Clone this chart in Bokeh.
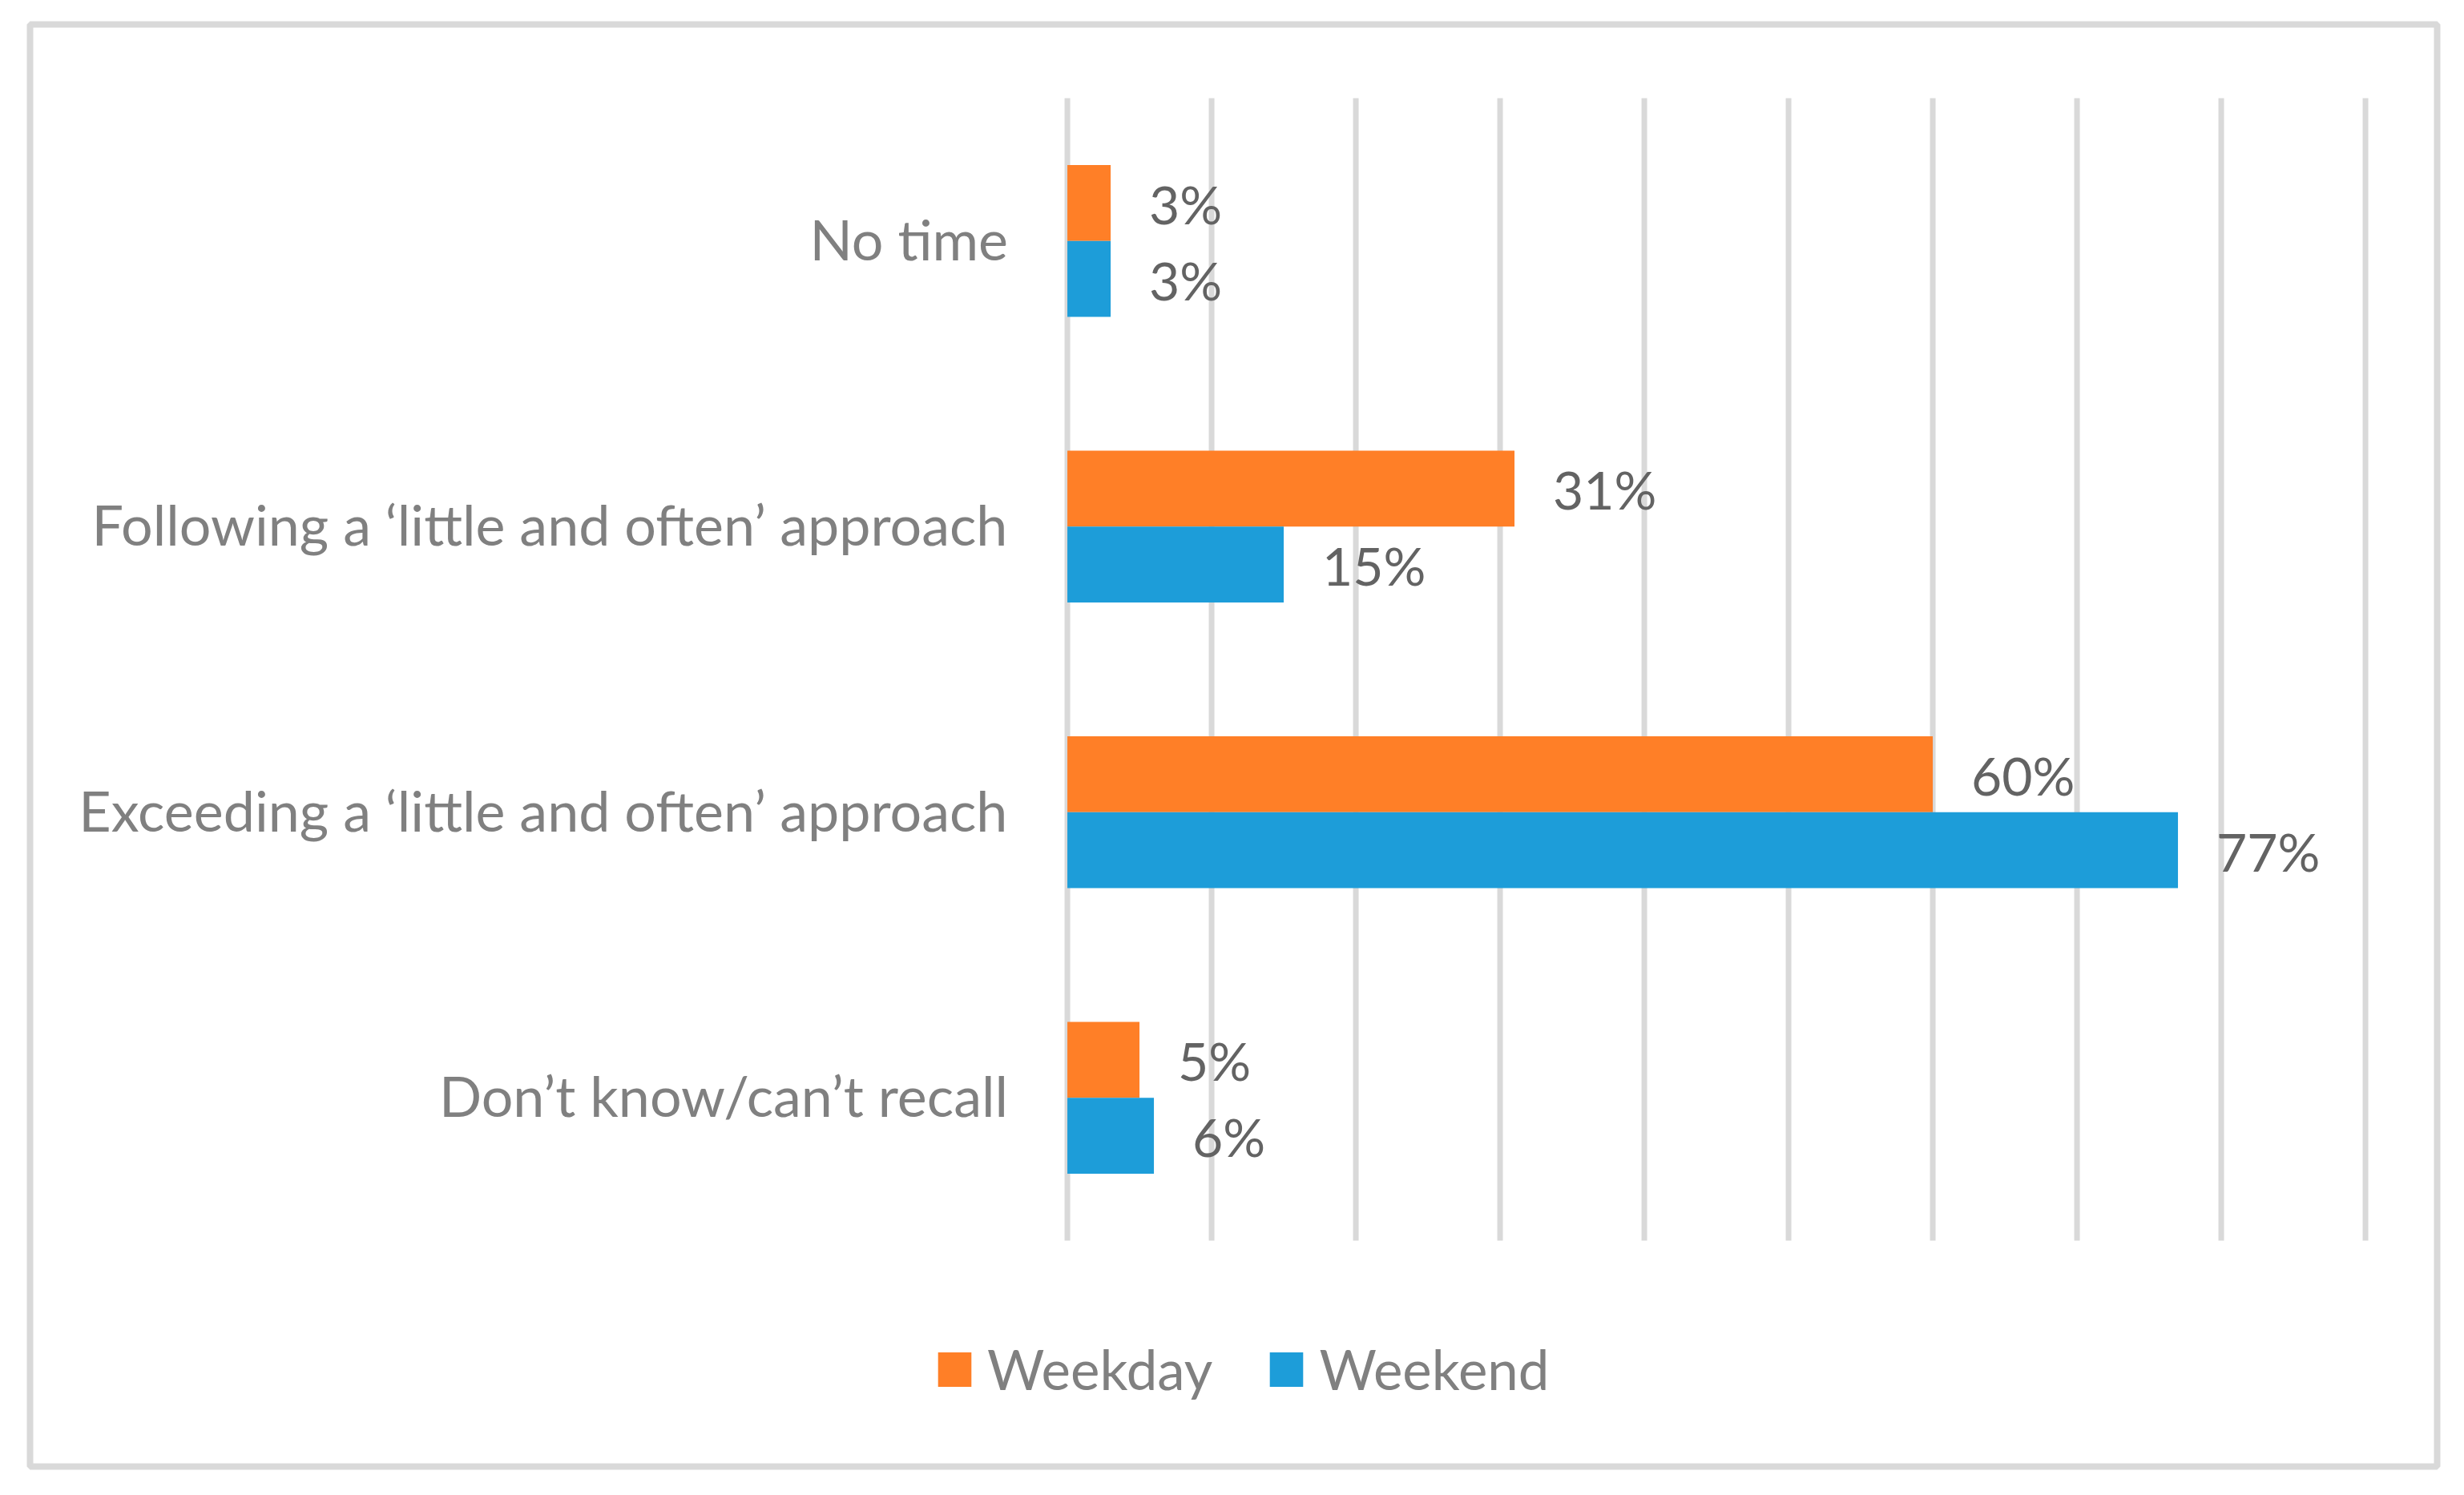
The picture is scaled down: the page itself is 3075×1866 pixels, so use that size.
from bokeh.plotting import figure
from bokeh.models import Range1d, ColumnDataSource, Legend, LegendItem
from bokeh.core.properties import value
from bokeh.embed import file_html
from bokeh.resources import INLINE

# ---- data ----
categories = ["No time",
              "Following a \u2018little and often\u2019 approach",
              "Exceeding a \u2018little and often\u2019 approach",
              "Don\u2019t know/can\u2019t recall"]
weekday = [3, 31, 60, 5]
weekend = [3, 15, 77, 6]
series_names = ["Weekday", "Weekend"]
x_ticks = [0, 10, 20, 30, 40, 50, 60, 70, 80, 90]

# ---- styles ----
FONT_NAME = "Lato"
FONT = value(FONT_NAME)
ORANGE = "#FF7F27"
BLUE = "#1D9DD9"
GRID = "#D9D9D9"
CAT_COLOR = "#808080"
LBL_COLOR = "#636363"
FS_LBL = "66px"
FS_CAT = "70px"
FS_LEG = "69px"
BAR_H = 0.266

n = len(categories)
yc = [n - i - 0.5 for i in range(n)]

p = figure(width=3059, height=1850, output_backend="svg", toolbar_location=None,
           x_axis_type=None, y_axis_type=None,
           x_range=Range1d(-71.92, 94.97), y_range=Range1d(-0.791, 4.258),
           min_border_left=37, min_border_top=30, min_border_right=18, min_border_bottom=20)
p.outline_line_color = GRID
p.outline_line_width = 8
p.background_fill_color = "white"
p.border_fill_color = "white"
p.xgrid.visible = False
p.ygrid.visible = False

# gridlines
p.segment(x0=x_ticks, x1=x_ticks, y0=[0] * len(x_ticks), y1=[n] * len(x_ticks),
          line_color=GRID, line_width=7)

src_wd = ColumnDataSource(dict(y=[v + BAR_H / 2 for v in yc], x=weekday,
                               lbl=[f"{v}%" for v in weekday]))
src_we = ColumnDataSource(dict(y=[v - BAR_H / 2 for v in yc], x=weekend,
                               lbl=[f"{v}%" for v in weekend]))

r1 = p.hbar(y="y", right="x", left=0, height=BAR_H, source=src_wd,
            fill_color=ORANGE, line_color=None)
r2 = p.hbar(y="y", right="x", left=0, height=BAR_H, source=src_we,
            fill_color=BLUE, line_color=None)

for s in (src_wd, src_we):
    p.text(x="x", y="y", text="lbl", source=s, x_offset=48, y_offset=1,
           text_align="left", text_baseline="middle",
           text_font=FONT, text_font_size=FS_LBL, text_color=LBL_COLOR)

src_cat = ColumnDataSource(dict(y=yc, x=[0] * n, t=categories))
p.text(x="x", y="y", text="t", source=src_cat, x_offset=-74, y_offset=-3,
       text_align="right", text_baseline="middle",
       text_font=FONT, text_font_size=FS_CAT, text_color=CAT_COLOR)

legend = Legend(items=[LegendItem(label=series_names[0], renderers=[r1]),
                       LegendItem(label=series_names[1], renderers=[r2])],
                orientation="horizontal", location=(1128, 80),
                glyph_width=52, glyph_height=54, label_standoff=15, spacing=66,
                padding=0, margin=0, border_line_color=None, background_fill_alpha=0,
                label_text_font=FONT_NAME, label_text_font_size=FS_LEG,
                label_text_color=CAT_COLOR)
p.add_layout(legend)

open("out.html", "w").write(file_html(p, INLINE))
